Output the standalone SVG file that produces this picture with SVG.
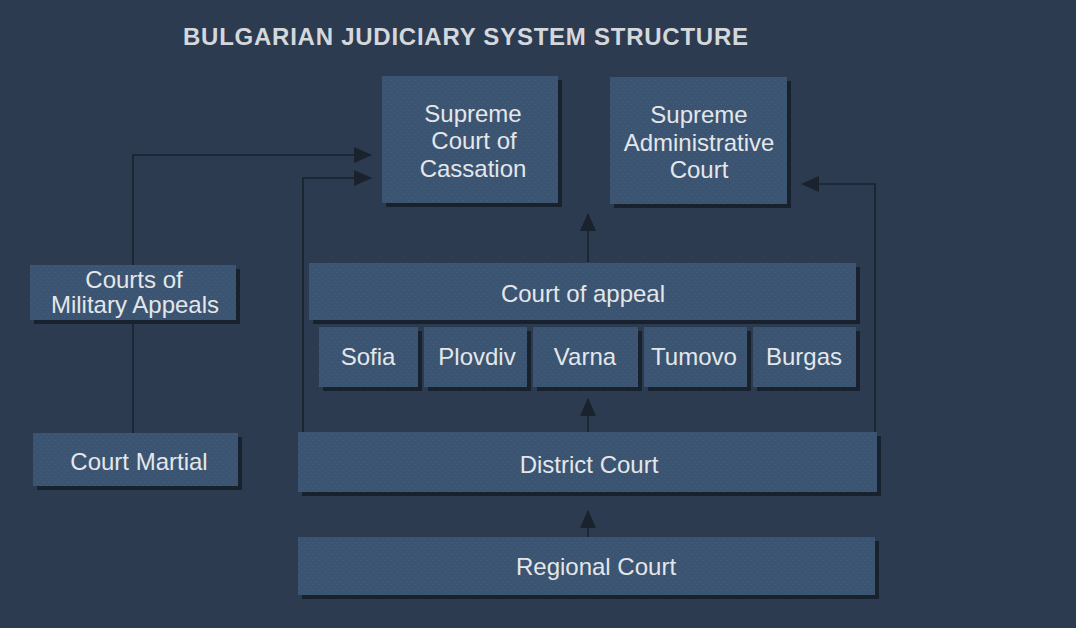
<svg xmlns="http://www.w3.org/2000/svg" width="1076" height="628" viewBox="0 0 1076 628">
<defs>
<style>
.bg{fill:#2c3b50}
.box{fill:#3b5471}
.sh{fill:#18222e}
.t{font-family:"Liberation Sans",Arial,sans-serif;font-size:24px;fill:#e4e7ea;text-anchor:middle}
.title{font-family:"Liberation Sans",Arial,sans-serif;font-size:24px;font-weight:bold;fill:#d4d8dd}
.c{fill:none;stroke:#19222d;stroke-width:1.6}
</style>
<marker id="ah" viewBox="0 0 18 16" refX="17" refY="8" markerWidth="18" markerHeight="16" markerUnits="userSpaceOnUse" orient="auto">
<path d="M0,0 L18,8 L0,16 Z" fill="#19222d"/>
</marker>
<pattern id="spk" width="6" height="6" patternUnits="userSpaceOnUse">
<rect x="1" y="2" width="1" height="1" fill="#5a7a8a" opacity="0.35"/>
<rect x="4" y="5" width="1" height="1" fill="#5a7a8a" opacity="0.3"/>
</pattern>
</defs>
<rect class="bg" x="0" y="0" width="1076" height="628"/>
<text class="title" x="183" y="45" textLength="565" lengthAdjust="spacing">BULGARIAN JUDICIARY SYSTEM STRUCTURE</text>

<g id="connectors">
<path class="c" d="M133,433 V320"/>
<path class="c" d="M133,265 V155 H371" marker-end="url(#ah)"/>
<path class="c" d="M303,432 V178 H371" marker-end="url(#ah)"/>
<path class="c" d="M875,432 V184 H802" marker-end="url(#ah)"/>
<path class="c" d="M588,262 V214" marker-end="url(#ah)"/>
<path class="c" d="M588,432 V399" marker-end="url(#ah)"/>
<path class="c" d="M588,537 V511" marker-end="url(#ah)"/>
</g>

<g id="cassation">
<rect class="sh" x="386" y="80" width="176" height="127"/>
<rect class="box" x="382" y="76" width="176" height="127"/>
<rect fill="url(#spk)" x="382" y="76" width="176" height="127"/>
<text class="t" x="473" y="122">Supreme</text>
<text class="t" x="474" y="149">Court of</text>
<text class="t" x="473" y="177">Cassation</text>
</g>

<g id="administrative">
<rect class="sh" x="614" y="81" width="177" height="127"/>
<rect class="box" x="610" y="77" width="177" height="127"/>
<rect fill="url(#spk)" x="610" y="77" width="177" height="127"/>
<text class="t" x="699" y="123">Supreme</text>
<text class="t" x="699" y="151">Administrative</text>
<text class="t" x="699" y="178">Court</text>
</g>

<g id="military-appeals">
<rect class="sh" x="34" y="269" width="206" height="55"/>
<rect class="box" x="30" y="265" width="206" height="55"/>
<rect fill="url(#spk)" x="30" y="265" width="206" height="55"/>
<text class="t" x="134" y="288">Courts of</text>
<text class="t" x="135" y="313">Military Appeals</text>
</g>

<g id="court-martial">
<rect class="sh" x="37" y="437" width="205" height="53"/>
<rect class="box" x="33" y="433" width="205" height="53"/>
<rect fill="url(#spk)" x="33" y="433" width="205" height="53"/>
<text class="t" x="139" y="470">Court Martial</text>
</g>

<g id="court-of-appeal">
<rect class="sh" x="313" y="267" width="547" height="57"/>
<rect class="box" x="309" y="263" width="547" height="57"/>
<rect fill="url(#spk)" x="309" y="263" width="547" height="57"/>
<text class="t" x="583" y="302">Court of appeal</text>
</g>

<g id="sofia">
<rect class="sh" x="323" y="331" width="99" height="60"/>
<rect class="box" x="319" y="327" width="99" height="60"/>
<rect fill="url(#spk)" x="319" y="327" width="99" height="60"/>
<text class="t" x="368" y="365">Sofia</text>
</g>
<g id="plovdiv">
<rect class="sh" x="428" y="331" width="103" height="60"/>
<rect class="box" x="424" y="327" width="103" height="60"/>
<rect fill="url(#spk)" x="424" y="327" width="103" height="60"/>
<text class="t" x="477" y="365">Plovdiv</text>
</g>
<g id="varna">
<rect class="sh" x="537" y="331" width="105" height="60"/>
<rect class="box" x="533" y="327" width="105" height="60"/>
<rect fill="url(#spk)" x="533" y="327" width="105" height="60"/>
<text class="t" x="585" y="365">Varna</text>
</g>
<g id="turnovo">
<rect class="sh" x="648" y="331" width="103" height="60"/>
<rect class="box" x="644" y="327" width="103" height="60"/>
<rect fill="url(#spk)" x="644" y="327" width="103" height="60"/>
<text class="t" x="694" y="365">Tumovo</text>
</g>
<g id="burgas">
<rect class="sh" x="757" y="331" width="103" height="60"/>
<rect class="box" x="753" y="327" width="103" height="60"/>
<rect fill="url(#spk)" x="753" y="327" width="103" height="60"/>
<text class="t" x="804" y="365">Burgas</text>
</g>

<g id="district-court">
<rect class="sh" x="302" y="436" width="579" height="60"/>
<rect class="box" x="298" y="432" width="579" height="60"/>
<rect fill="url(#spk)" x="298" y="432" width="579" height="60"/>
<text class="t" x="589" y="473">District Court</text>
</g>

<g id="regional-court">
<rect class="sh" x="302" y="541" width="577" height="58"/>
<rect class="box" x="298" y="537" width="577" height="58"/>
<rect fill="url(#spk)" x="298" y="537" width="577" height="58"/>
<text class="t" x="596" y="575">Regional Court</text>
</g>
</svg>
